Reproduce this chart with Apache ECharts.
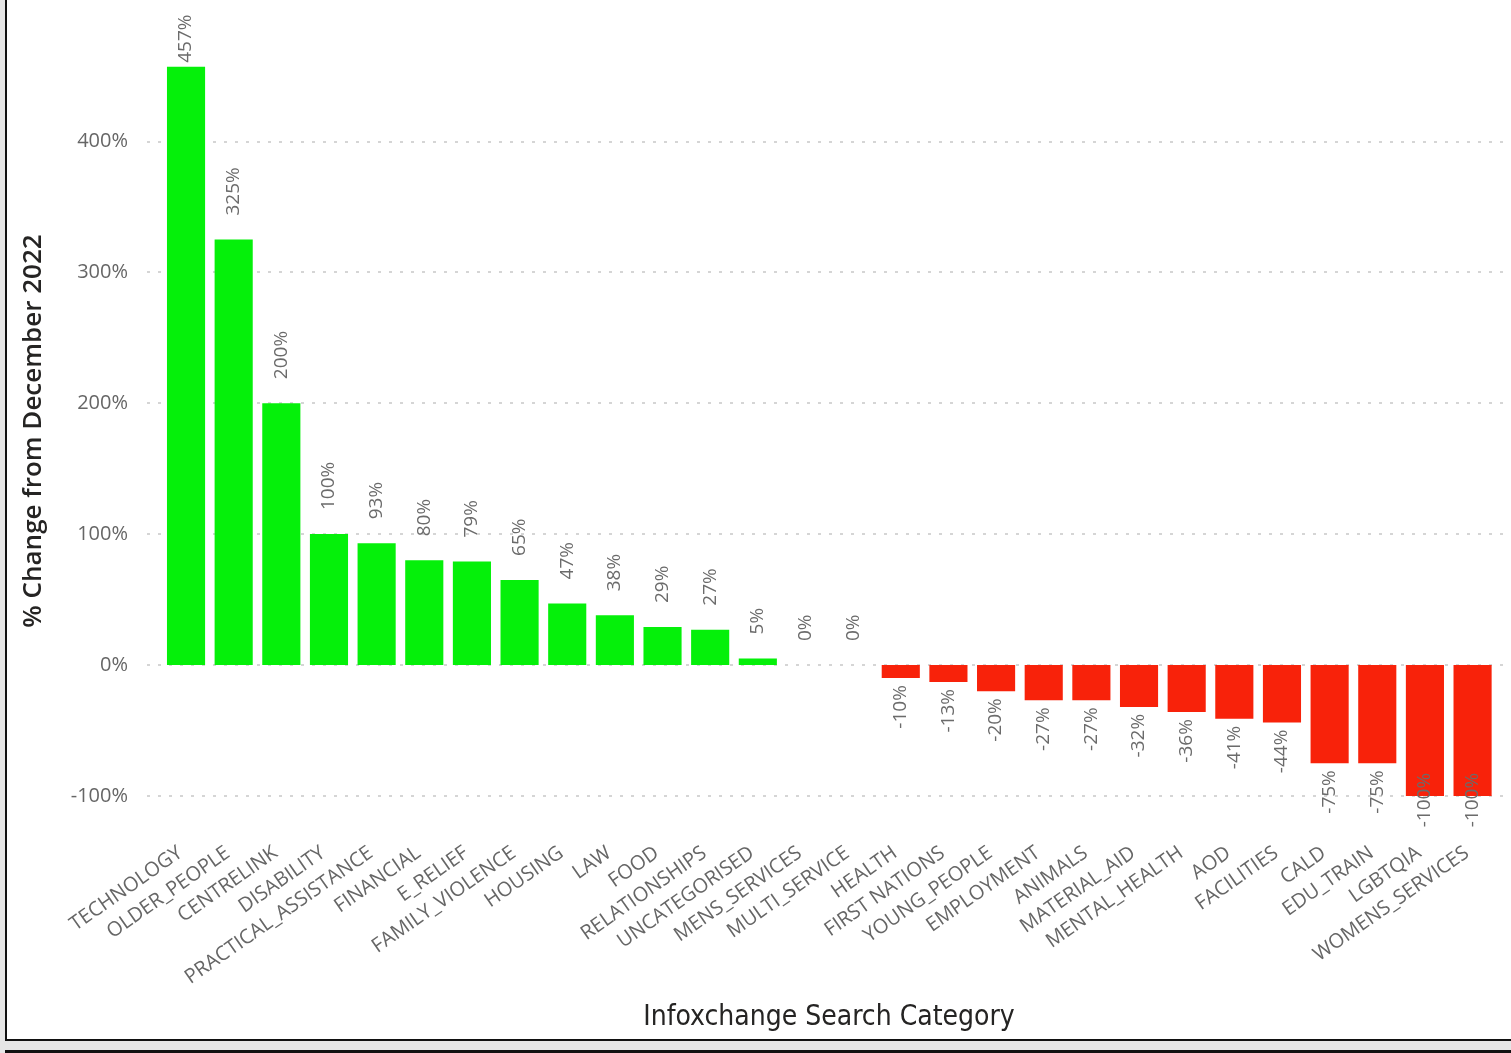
<!DOCTYPE html>
<html>
<head>
<meta charset="utf-8">
<script src="https://cdn.jsdelivr.net/npm/echarts@6/dist/echarts.min.js"></script>
<style>
  html, body { margin: 0; padding: 0; background: #e6e6e6; overflow: hidden; }
  #panel { position: absolute; left: 5px; top: -10px; width: 1520px; height: 1049px; background: #fff; border-left: 2px solid #111; border-bottom: 2px solid #111; }
  #panel2 { position: absolute; left: 5px; top: 1050px; width: 1520px; height: 20px; background: #fff; border-left: 2px solid #111; border-top: 3px solid #111; }
  #chart { position: absolute; left: 0; top: 0; width: 1511px; height: 1053px; }
</style>
</head>
<body>
<div id="panel"></div>
<div id="panel2"></div>
<div id="chart"></div>
<script>
const categories = ["TECHNOLOGY","OLDER_PEOPLE","CENTRELINK","DISABILITY","PRACTICAL_ASSISTANCE","FINANCIAL","E_RELIEF","FAMILY_VIOLENCE","HOUSING","LAW","FOOD","RELATIONSHIPS","UNCATEGORISED","MENS_SERVICES","MULTI_SERVICE","HEALTH","FIRST NATIONS","YOUNG_PEOPLE","EMPLOYMENT","ANIMALS","MATERIAL_AID","MENTAL_HEALTH","AOD","FACILITIES","CALD","EDU_TRAIN","LGBTQIA","WOMENS_SERVICES"];
const pctChange = [457,325,200,100,93,80,79,65,47,38,29,27,5,0,0,-10,-13,-20,-27,-27,-32,-36,-41,-44,-75,-75,-100,-100];
const yTicks = [-100,0,100,200,300,400];
const yAxisTitle = "% Change from December 2022";
const xAxisTitle = "Infoxchange Search Category";

const GREEN = '#05F00A';
const RED = '#F8220A';
const FONT = "'Open Sans', 'Noto Sans', sans-serif";
const Y_MIN = yTicks[0], Y_MAX = yTicks[yTicks.length - 1];

const chart = echarts.init(document.getElementById('chart'), null, {renderer: 'canvas'});

// label placement: like the source tool, labels that would run outside the plot are pulled back in
const seriesData = pctChange.map(v => {
  let label;
  if (v >= 0) {
    label = { position: 'top', align: 'left', verticalAlign: 'middle', distance: v > Y_MAX ? 4 : 24 };
  } else {
    label = { position: 'bottom', align: 'right', verticalAlign: 'middle', distance: v <= Y_MIN ? -23 : 7 };
  }
  return { value: v, itemStyle: { color: v >= 0 ? GREEN : RED }, label };
});

chart.setOption({
  animation: false,
  grid: [
    { left: 147, width: 1364, top: 141.3, height: 654.6 },
    { left: 162.2, width: 1334.2, top: 10.5, height: 785.4 }
  ],
  xAxis: [
    { gridIndex: 0, type: 'value', min: 0, max: 1, show: false },
    {
      gridIndex: 1, type: 'category', data: categories,
      position: 'bottom',
      axisLine: { show: false, onZero: false },
      axisTick: { show: false },
      axisLabel: {
        interval: 0, rotate: 35, margin: 51, padding: [0, 7, 0, 0],
        color: '#666', fontSize: 20, fontFamily: FONT
      }
    }
  ],
  yAxis: [
    {
      gridIndex: 0, type: 'value', min: Y_MIN, max: Y_MAX, interval: 100,
      axisLine: { show: false }, axisTick: { show: false },
      axisLabel: { formatter: '{value}%', color: '#666', fontSize: 20, fontFamily: FONT, margin: 19 },
      splitLine: { show: true, lineStyle: { color: '#c8c8c8', width: 1.5, type: [3, 8] } }
    },
    {
      gridIndex: 1, type: 'value', min: -100, max: 500, interval: 100,
      show: false, splitLine: { show: false }
    }
  ],
  series: [{
    type: 'bar',
    xAxisIndex: 1, yAxisIndex: 1,
    data: seriesData,
    barCategoryGap: '20%',
    label: {
      show: true, rotate: 90, formatter: '{c}%',
      color: '#6b6b6b', fontSize: 19, fontFamily: FONT
    }
  }],
  graphic: [
    {
      type: 'text', x: 34, y: 431, rotation: Math.PI / 2,
      style: {
        text: yAxisTitle, fill: '#252423', font: "600 26px 'Open Sans', sans-serif",
        align: 'center', verticalAlign: 'middle'
      }
    },
    {
      type: 'text', x: 829, y: 1018,
      style: {
        text: xAxisTitle, fill: '#252423', font: "28px 'DejaVu Sans Condensed', 'DejaVu Sans', sans-serif",
        align: 'center', verticalAlign: 'middle'
      }
    }
  ]
});
</script>
</body>
</html>
